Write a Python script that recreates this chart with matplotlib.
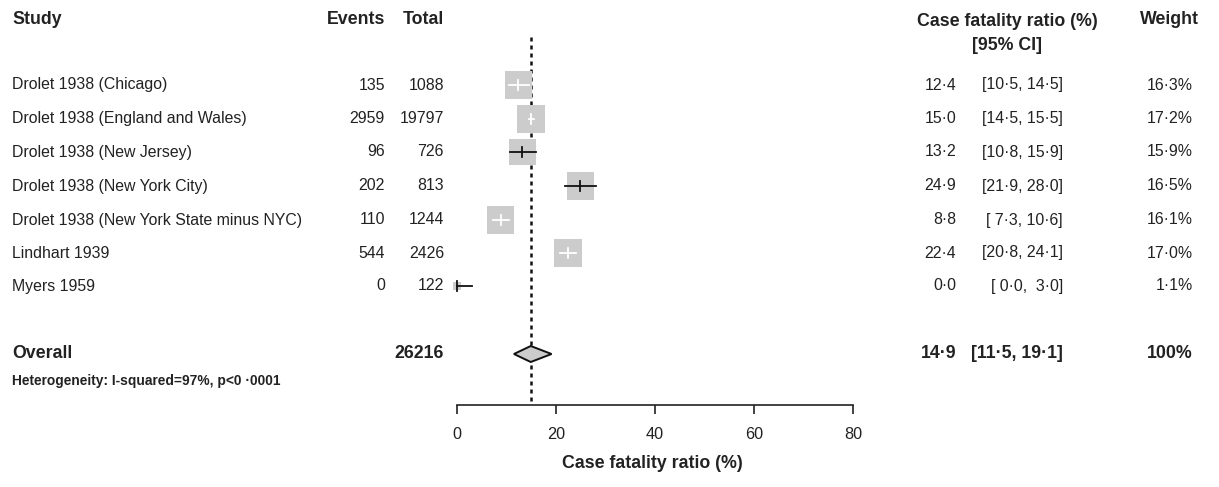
import numpy as np
import matplotlib
matplotlib.use("Agg")
import matplotlib.pyplot as plt
import matplotlib.transforms as mtransforms
from matplotlib.patches import Rectangle, Polygon

plt.rcParams['font.family'] = ['Liberation Sans', 'DejaVu Sans']

# data
studies = ["Drolet 1938 (Chicago)", "Drolet 1938 (England and Wales)",
           "Drolet 1938 (New Jersey)", "Drolet 1938 (New York City)",
           "Drolet 1938 (New York State minus NYC)", "Lindhart 1939", "Myers 1959"]
events = [135, 2959, 96, 202, 110, 544, 0]
totals = [1088, 19797, 726, 813, 1244, 2426, 122]
est = [12.4, 15.0, 13.2, 24.9, 8.8, 22.4, 0.0]
lo = [10.5, 14.5, 10.8, 21.9, 7.3, 20.8, 0.0]
hi = [14.5, 15.5, 15.9, 28.0, 10.6, 24.1, 3.0]
weights = [16.3, 17.2, 15.9, 16.5, 16.1, 17.0, 1.1]
overall_total = 26216
overall_est, overall_lo, overall_hi = 14.9, 11.5, 19.1
xticks = [0, 20, 40, 60, 80]

W, H = 1219, 487
REG, BOLD = 11.4, 12.8
INK = "#222222"

fig = plt.figure(figsize=(W / 100, H / 100), dpi=100)
ax_l, ax_r, ax_bot = 457, 853, 405
ax = fig.add_axes([ax_l / W, (H - ax_bot) / H, (ax_r - ax_l) / W, ax_bot / H])
ax.set_xlim(0, 80)
ax.set_ylim(ax_bot, 0)  # y in pixel rows from top
for s in ["top", "left", "right"]:
    ax.spines[s].set_visible(False)
ax.spines["bottom"].set_linewidth(1.2)
ax.spines["bottom"].set_color(INK)
ax.set_yticks([])
ax.set_xticks(xticks)
ax.tick_params(axis="x", length=6.5, width=1.2, pad=9, labelsize=11.7, colors=INK)

px = 80 / (ax_r - ax_l)  # data units per pixel
rows_y = [85, 118.5, 152, 186, 220, 253, 286]
overall_y = 354

# reference line
ax.plot([overall_est, overall_est], [37, ax_bot], color="#111111", lw=1.8,
        linestyle=(0, (1.6, 1.6)), zorder=1, clip_on=False)

# study boxes and CIs
maxw = max(weights)
for y, e, l, h, w in zip(rows_y, est, lo, hi, weights):
    side = 28 * np.sqrt(w / maxw)
    ax.add_patch(Rectangle((e - side / 2 * px, y - side / 2), side * px, side,
                           facecolor="#cccccc", edgecolor="none", zorder=2, clip_on=False))
    col = "#111111" if (h - l) / px > 0.85 * side else "white"
    ax.plot([l, h], [y, y], color=col, lw=1.3, zorder=3, clip_on=False)
    ax.plot([e, e], [y - 5, y + 5], color=col, lw=1.3, zorder=3, clip_on=False)

# overall diamond
ax.add_patch(Polygon([[overall_lo, overall_y], [overall_est, overall_y - 8],
                      [overall_hi, overall_y], [overall_est, overall_y + 8]],
                     closed=True, facecolor="#cccccc", edgecolor="#111111",
                     lw=1.4, zorder=4, clip_on=False))

# text columns: x in figure pixels, y in pixel rows
tr = mtransforms.blended_transform_factory(
    mtransforms.Affine2D().scale(1 / W, 1) + fig.transFigure, ax.transData)


def txt(x, y, s, ha="left", bold=False, size=None):
    if size is None:
        size = BOLD if bold else REG
    ax.text(x, y, s, transform=tr, ha=ha, va="center", fontsize=size,
            fontweight="bold" if bold else "normal", color=INK, clip_on=False)


def fmt(v):
    return f"{v:.1f}".replace(".", "\u00b7")


def fmt_ci(a, b):
    return f"[{fmt(a):>4}, {fmt(b):>4}]"


txt(12, 19, "Study", bold=True)
txt(385, 19, "Events", ha="right", bold=True)
txt(444, 19, "Total", ha="right", bold=True)
txt(1007, 21, "Case fatality ratio (%)", ha="center", bold=True)
txt(1007, 45, "[95% CI]", ha="center", bold=True)
txt(1199, 19, "Weight", ha="right", bold=True)

for y, name, ev, tot, e, l, h, w in zip(rows_y, studies, events, totals, est, lo, hi, weights):
    txt(12, y, name)
    txt(385, y, str(ev), ha="right")
    txt(444, y, str(tot), ha="right")
    txt(956, y, fmt(e), ha="right")
    txt(1063, y, fmt_ci(l, h), ha="right")
    txt(1193, y, fmt(w) + "%", ha="right")

txt(12, overall_y, "Overall", bold=True)
txt(444, overall_y, str(overall_total), ha="right", bold=True)
txt(956, overall_y, fmt(overall_est), ha="right", bold=True)
txt(1063, overall_y, fmt_ci(overall_lo, overall_hi), ha="right", bold=True)
txt(1193, overall_y, "100%", ha="right", bold=True)
txt(12, 381, "Heterogeneity: I-squared=97%, p<0 \u00b70001", bold=True, size=9.9)

# x-axis title
txt(652, 463, "Case fatality ratio (%)", ha="center", bold=True)

fig.savefig("out.png", dpi=100)
